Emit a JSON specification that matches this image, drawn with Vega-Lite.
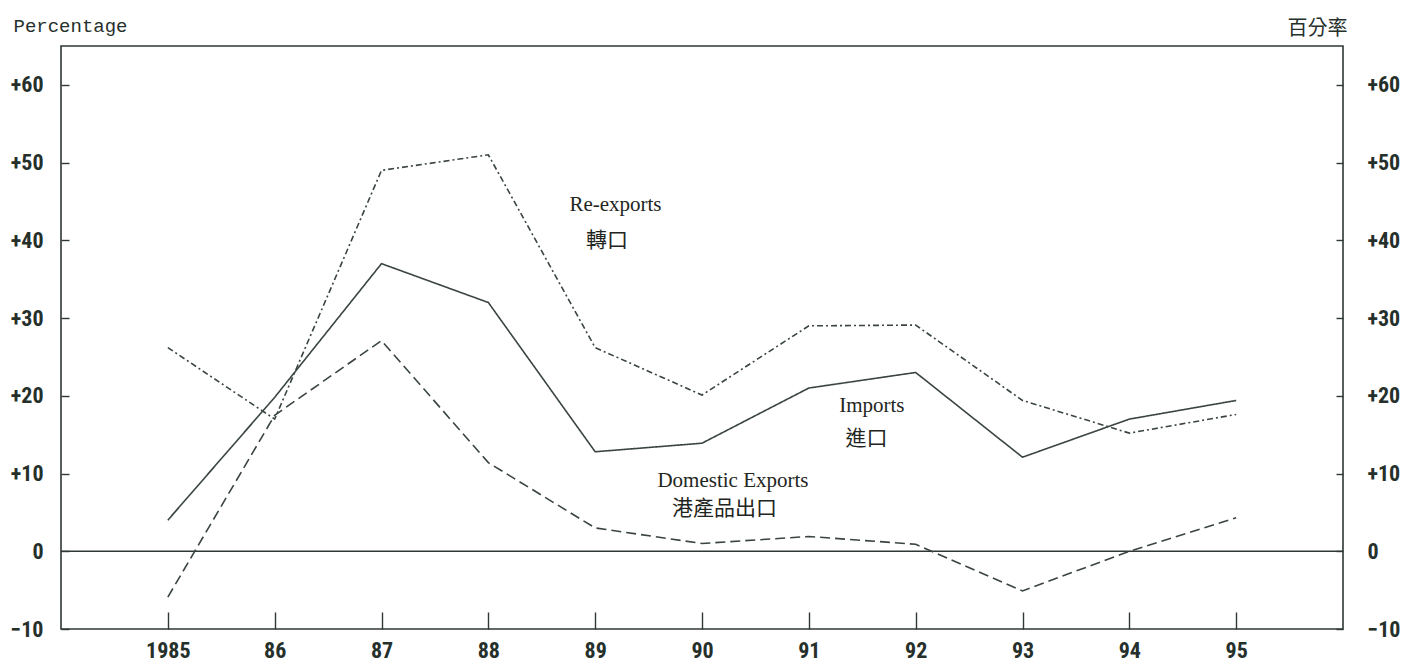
{
  "$schema": "https://vega.github.io/schema/vega-lite/v6.json",
  "width": 1282,
  "height": 583,
  "autosize": {"type": "none"},
  "padding": {"left": 61, "top": 46, "right": 58, "bottom": 38},
  "background": "white",
  "config": {
    "view": {"stroke": "#2f3833", "strokeWidth": 1.6},
    "axis": {"grid": false, "domain": false, "tickColor": "#2f3833", "tickWidth": 1.4, "labelColor": "#26302b", "titleColor": "#26302b", "labelFont": "Liberation Sans Narrow, Roboto Condensed, Liberation Sans", "labelFontSize": 22, "labelFontWeight": "bold"}
  },
  "datasets": {
    "series": [
      {"year": 1985, "series": "Imports", "value": 4.0},
      {"year": 1986, "series": "Imports", "value": 19.8},
      {"year": 1987, "series": "Imports", "value": 37.0},
      {"year": 1988, "series": "Imports", "value": 32.0},
      {"year": 1989, "series": "Imports", "value": 12.8},
      {"year": 1990, "series": "Imports", "value": 13.9},
      {"year": 1991, "series": "Imports", "value": 21.0},
      {"year": 1992, "series": "Imports", "value": 23.0},
      {"year": 1993, "series": "Imports", "value": 12.1},
      {"year": 1994, "series": "Imports", "value": 17.0},
      {"year": 1995, "series": "Imports", "value": 19.4},
      {"year": 1985, "series": "Re-exports", "value": 26.2},
      {"year": 1986, "series": "Re-exports", "value": 17.0},
      {"year": 1987, "series": "Re-exports", "value": 49.0},
      {"year": 1988, "series": "Re-exports", "value": 51.0},
      {"year": 1989, "series": "Re-exports", "value": 26.2},
      {"year": 1990, "series": "Re-exports", "value": 20.1},
      {"year": 1991, "series": "Re-exports", "value": 29.0},
      {"year": 1992, "series": "Re-exports", "value": 29.1},
      {"year": 1993, "series": "Re-exports", "value": 19.4},
      {"year": 1994, "series": "Re-exports", "value": 15.2},
      {"year": 1995, "series": "Re-exports", "value": 17.6},
      {"year": 1985, "series": "Domestic Exports", "value": -5.9},
      {"year": 1986, "series": "Domestic Exports", "value": 17.5},
      {"year": 1987, "series": "Domestic Exports", "value": 27.1},
      {"year": 1988, "series": "Domestic Exports", "value": 11.4},
      {"year": 1989, "series": "Domestic Exports", "value": 3.0},
      {"year": 1990, "series": "Domestic Exports", "value": 1.0},
      {"year": 1991, "series": "Domestic Exports", "value": 1.9},
      {"year": 1992, "series": "Domestic Exports", "value": 0.9},
      {"year": 1993, "series": "Domestic Exports", "value": -5.1},
      {"year": 1994, "series": "Domestic Exports", "value": 0.0},
      {"year": 1995, "series": "Domestic Exports", "value": 4.3}
    ],
    "labels": [
      {"text": "Re-exports", "year": 1989.19, "value": 44.5},
      {"text": "轉口", "year": 1989.11, "value": 39.9},
      {"text": "Imports", "year": 1991.59, "value": 18.7},
      {"text": "進口", "year": 1991.54, "value": 14.4},
      {"text": "Domestic Exports", "year": 1990.29, "value": 9.0},
      {"text": "港產品出口", "year": 1990.21, "value": 5.4}
    ],
    "zero": [{"v": 0}]
  },
  "layer": [
    {
      "data": {"name": "zero"},
      "mark": {"type": "rule", "color": "#2f3833", "strokeWidth": 1.5},
      "encoding": {
        "y": {
          "field": "v", "type": "quantitative",
          "scale": {"domain": [-10, 65], "nice": false, "zero": false},
          "axis": {
            "orient": "right", "values": [-10, 0, 10, 20, 30, 40, 50, 60],
            "labelExpr": "datum.value > 0 ? '+' + datum.label : datum.label",
            "tickSize": -7, "labelPadding": 31, "labelAlign": "left",
            "title": "百分率", "titleAngle": 0, "titleAlign": "right", "titleBaseline": "middle",
            "titleX": 4, "titleY": -18, "titleFont": "Noto Sans CJK TC", "titleFontSize": 20, "titleFontWeight": "normal"
          }
        }
      }
    },
    {
      "data": {"name": "series"},
      "mark": {"type": "line", "color": "#3a4540", "strokeWidth": 1.6},
      "encoding": {
        "x": {
          "field": "year", "type": "quantitative",
          "scale": {"domain": [1984, 1996], "nice": false, "zero": false},
          "axis": {
            "values": [1985, 1986, 1987, 1988, 1989, 1990, 1991, 1992, 1993, 1994, 1995],
            "format": "d",
            "labelExpr": "datum.value == 1985 ? datum.label : slice(datum.label, 2)",
            "tickSize": -17, "labelPadding": 28, "title": null
          }
        },
        "y": {
          "field": "value", "type": "quantitative",
          "axis": {
            "orient": "left", "values": [-10, 0, 10, 20, 30, 40, 50, 60],
            "labelExpr": "datum.value > 0 ? '+' + datum.label : datum.label",
            "tickSize": -8, "labelPadding": 26,
            "title": "Percentage", "titleAngle": 0, "titleAlign": "left", "titleBaseline": "middle",
            "titleX": -48, "titleY": -21, "titleFont": "Liberation Mono", "titleFontSize": 19, "titleFontWeight": "normal"
          }
        },
        "strokeDash": {
          "field": "series", "type": "nominal",
          "scale": {"domain": ["Imports", "Re-exports", "Domestic Exports"], "range": [[1, 0], [6, 3, 2, 3], [10, 5]]},
          "legend": null
        },
        "detail": {"field": "series"}
      }
    },
    {
      "data": {"name": "labels"},
      "mark": {"type": "text", "font": "Liberation Serif, Noto Sans CJK TC", "fontSize": 21, "color": "#1f2622", "align": "center", "baseline": "middle"},
      "encoding": {
        "x": {"field": "year", "type": "quantitative"},
        "y": {"field": "value", "type": "quantitative", "axis": null},
        "text": {"field": "text"}
      }
    }
  ],
  "resolve": {"axis": {"y": "independent"}}
}
